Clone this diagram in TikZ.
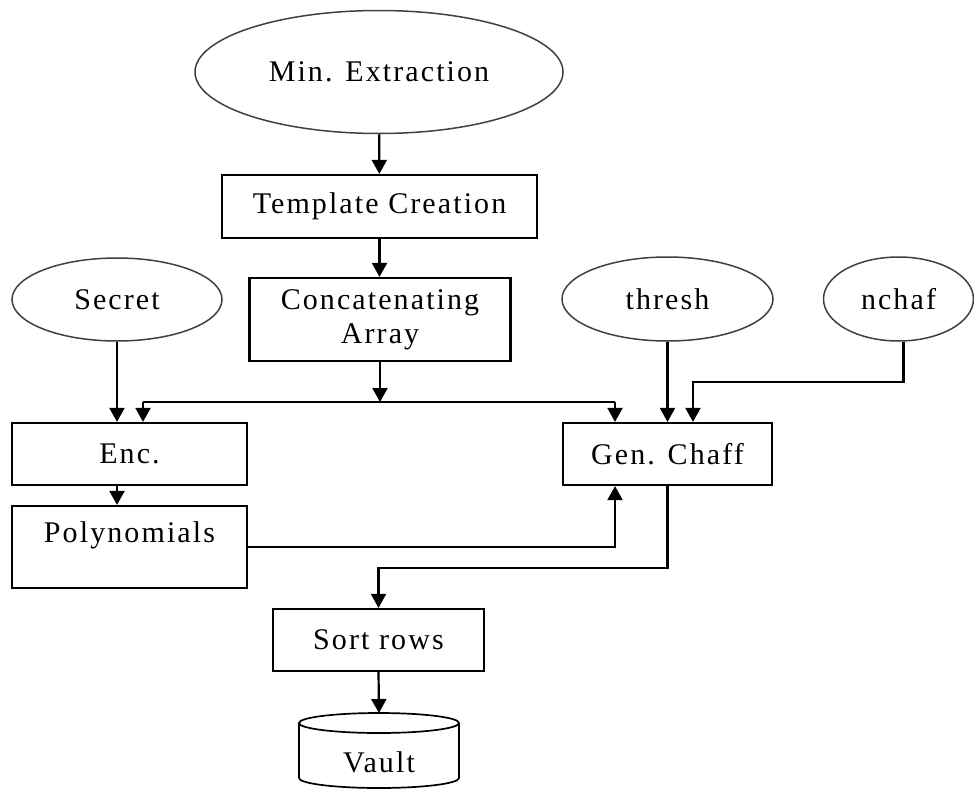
\documentclass[tikz,border=0pt]{standalone}
\usepackage{fontspec}
\setmainfont{Liberation Serif}[LetterSpace=7]
\usetikzlibrary{shapes.geometric,arrows.meta}

\tikzset{
  lbl/.style={font=\fontsize{30pt}{34pt}\selectfont, align=center, inner sep=0pt},
  stepbox/.style={lbl, draw, line width=2.2pt, rectangle},
  oval/.style={lbl, draw=black!75, line width=1.5pt, ellipse},
  arr/.style={line width=2.2pt, -{Triangle[width=15pt,length=14pt]}},
  wire/.style={line width=2.2pt},
}

\begin{document}
\begin{tikzpicture}[x=1pt,y=-1pt]
  \useasboundingbox[fill=white] (0,0) rectangle (974,795);

  % inputs
  \node[oval, minimum width=368pt, minimum height=123pt] (minx) at (379,72) {Min. Extraction};
  \node[oval, minimum width=210pt, minimum height=83pt] (secret) at (117,299.5) {Secret};
  \node[oval, minimum width=211pt, minimum height=84pt] (thresh) at (667.5,299) {thresh};
  \node[oval, minimum width=150pt, minimum height=84pt] (nchaf) at (898.5,299) {nchaf};

  % processing steps
  \node[stepbox, minimum width=315pt, minimum height=63pt] (tmpl) at (379.5,206.5) {Template Creation};
  \node[stepbox, minimum width=261pt, minimum height=83pt] (concat) at (380,319.5) {Concatenating\\Array};
  \node[stepbox, minimum width=235pt, minimum height=62pt] (enc) at (129.5,454) {Enc.};
  \node[stepbox, minimum width=235pt, minimum height=82pt, text depth=30pt] (poly) at (129.5,547) {Polynomials};
  \node[stepbox, minimum width=209pt, minimum height=62pt] (gen) at (667.5,454) {Gen. Chaff};
  \node[stepbox, minimum width=211pt, minimum height=62pt] (sort) at (378.5,640) {Sort rows};

  % vault (cylinder): body with rounded bottom, then the top rim
  \draw[line width=1.7pt] (299,723) -- (299,778)
        arc[start angle=180, end angle=0, x radius=80, y radius=10] -- (459,723);
  \draw[line width=1.7pt] (379,723) ellipse[x radius=80, y radius=10];
  \node[lbl] (vault) at (379,762) {Vault};
  \coordinate (vtop) at (379,713);

  % junction points
  \coordinate (cj) at (380,402);
  \coordinate (encin) at (143,402);
  \coordinate (genin) at (615,402);
  \coordinate (nj) at (693,382);
  \coordinate (sj) at (378.5,568);

  % connectors
  \draw[arr] (minx) -- (tmpl);
  \draw[arr] (tmpl.south) -- (tmpl.south |- concat.north);
  \draw[arr] (concat.south) -- (cj);
  \draw[wire] (encin) -- (genin);
  \draw[arr] (encin) -- (encin |- enc.north);
  \draw[arr] (genin) -- (genin |- gen.north);
  \draw[arr] (secret.south) -- (secret.south |- enc.north);
  \draw[arr] (thresh.south) -- (thresh.south |- gen.north);
  \draw[arr] ([xshift=5pt]nchaf.south) |- (nj) -- (nj |- gen.north);
  \draw[arr] (secret.south |- enc.south) -- (secret.south |- poly.north);
  \draw[arr] (poly.east) -| (genin |- gen.south);
  \draw[arr] (gen.south) |- (sj) -- (sort.north);
  \draw[arr] (sort.south) -- (vtop);
\end{tikzpicture}
\end{document}
